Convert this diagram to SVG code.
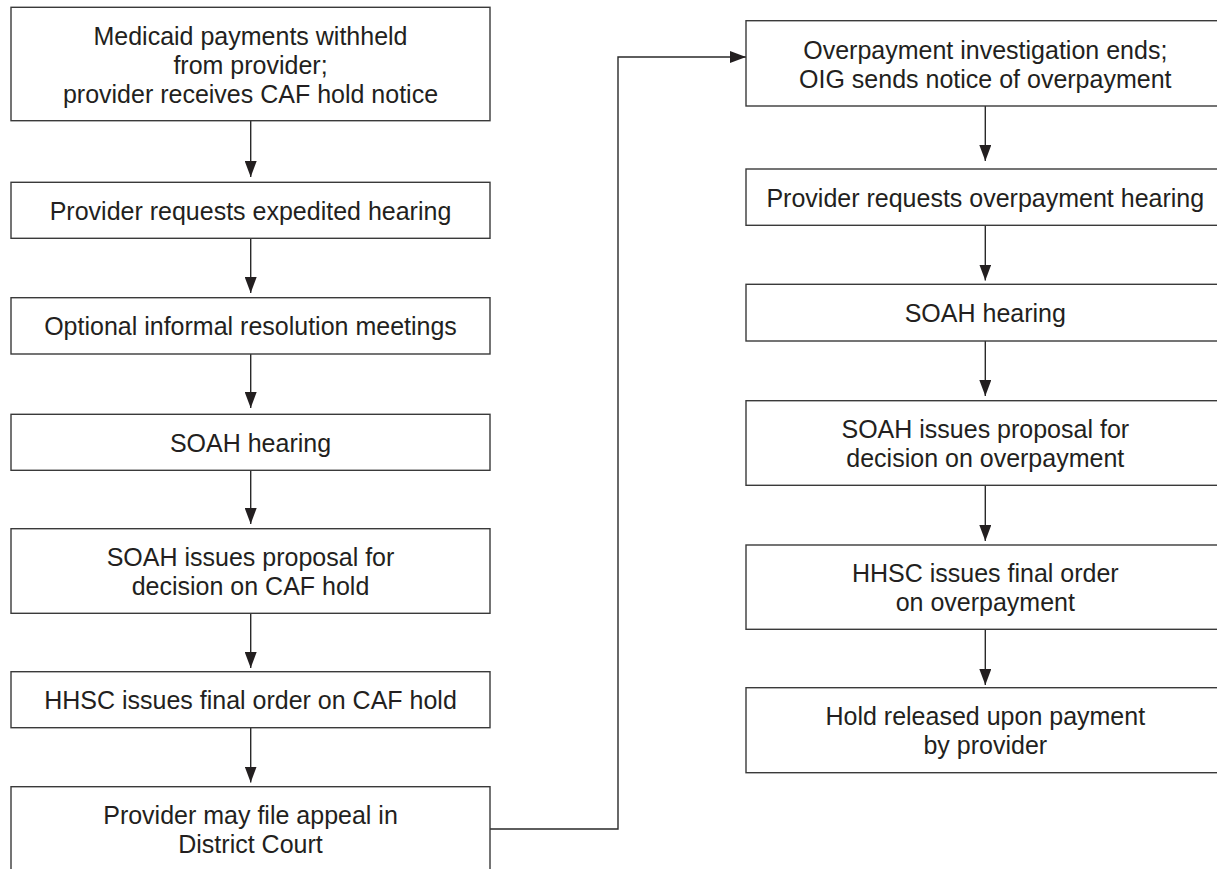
<svg xmlns="http://www.w3.org/2000/svg" width="1217" height="869" viewBox="0 0 1217 869">
<style>
.box{fill:#fff;stroke:#3a3a3a;stroke-width:1.4}
.t{font-family:"Liberation Sans",Arial,sans-serif;font-size:25px;fill:#231f20;text-anchor:middle}
.c{fill:none;stroke:#2a2a2a;stroke-width:1.4}
</style>
<defs>
<marker id="ah" markerUnits="userSpaceOnUse" markerWidth="16" markerHeight="12" refX="16" refY="6" orient="auto">
<path d="M0,0 L16,6 L0,12 z" fill="#231f20"/>
</marker>
</defs>
<rect width="1217" height="869" fill="#fff"/>
<g id="connectors">
<line class="c" x1="250.7" y1="120.7" x2="250.7" y2="177" marker-end="url(#ah)"/>
<line class="c" x1="250.7" y1="238.3" x2="250.7" y2="293" marker-end="url(#ah)"/>
<line class="c" x1="250.7" y1="354" x2="250.7" y2="408" marker-end="url(#ah)"/>
<line class="c" x1="250.7" y1="470.3" x2="250.7" y2="524" marker-end="url(#ah)"/>
<line class="c" x1="250.7" y1="613.3" x2="250.7" y2="668" marker-end="url(#ah)"/>
<line class="c" x1="250.7" y1="727.7" x2="250.7" y2="782.5" marker-end="url(#ah)"/>
<polyline class="c" points="490,829 618,829 618,57 746,57" marker-end="url(#ah)"/>
<line class="c" x1="985.3" y1="106" x2="985.3" y2="161" marker-end="url(#ah)"/>
<line class="c" x1="985.3" y1="225.3" x2="985.3" y2="280.5" marker-end="url(#ah)"/>
<line class="c" x1="985.3" y1="341" x2="985.3" y2="396" marker-end="url(#ah)"/>
<line class="c" x1="985.3" y1="485.3" x2="985.3" y2="541" marker-end="url(#ah)"/>
<line class="c" x1="985.3" y1="629.3" x2="985.3" y2="685" marker-end="url(#ah)"/>
</g>
<g id="n1"><rect class="box" x="11" y="7.3" width="479" height="113.4"/>
<text class="t" x="250.5" y="45">Medicaid payments withheld</text>
<text class="t" x="250.5" y="74">from provider;</text>
<text class="t" x="250.5" y="103">provider receives CAF hold notice</text></g>
<g id="n2"><rect class="box" x="11" y="182.3" width="479" height="56"/>
<text class="t" x="250.5" y="219.5">Provider requests expedited hearing</text></g>
<g id="n3"><rect class="box" x="11" y="297.7" width="479" height="56.3"/>
<text class="t" x="250.5" y="335">Optional informal resolution meetings</text></g>
<g id="n4"><rect class="box" x="11" y="414.3" width="479" height="56"/>
<text class="t" x="250.5" y="451.5">SOAH hearing</text></g>
<g id="n5"><rect class="box" x="11" y="528.7" width="479" height="84.6"/>
<text class="t" x="250.5" y="566">SOAH issues proposal for</text>
<text class="t" x="250.5" y="595">decision on CAF hold</text></g>
<g id="n6"><rect class="box" x="11" y="671.7" width="479" height="56"/>
<text class="t" x="250.5" y="709">HHSC issues final order on CAF hold</text></g>
<g id="n7"><rect class="box" x="11" y="786.7" width="479" height="85"/>
<text class="t" x="250.5" y="823.5">Provider may file appeal in</text>
<text class="t" x="250.5" y="852.5">District Court</text></g>
<g id="r1"><rect class="box" x="746" y="20.7" width="490" height="85.3"/>
<text class="t" x="985.3" y="58.5">Overpayment investigation ends;</text>
<text class="t" x="985.3" y="87.5">OIG sends notice of overpayment</text></g>
<g id="r2"><rect class="box" x="746" y="169" width="490" height="56.3"/>
<text class="t" x="985.3" y="206.5">Provider requests overpayment hearing</text></g>
<g id="r3"><rect class="box" x="746" y="284.3" width="490" height="56.7"/>
<text class="t" x="985.3" y="322">SOAH hearing</text></g>
<g id="r4"><rect class="box" x="746" y="400.7" width="490" height="84.6"/>
<text class="t" x="985.3" y="438">SOAH issues proposal for</text>
<text class="t" x="985.3" y="467">decision on overpayment</text></g>
<g id="r5"><rect class="box" x="746" y="545" width="490" height="84.3"/>
<text class="t" x="985.3" y="582">HHSC issues final order</text>
<text class="t" x="985.3" y="611">on overpayment</text></g>
<g id="r6"><rect class="box" x="746" y="687.7" width="490" height="85"/>
<text class="t" x="985.3" y="725">Hold released upon payment</text>
<text class="t" x="985.3" y="754">by provider</text></g>
</svg>
